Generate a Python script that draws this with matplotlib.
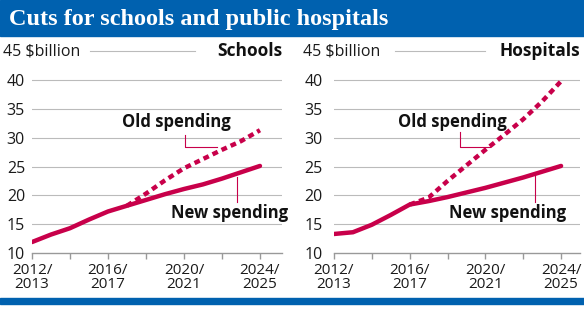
import matplotlib
matplotlib.use("Agg")
import matplotlib.pyplot as plt
from matplotlib.patches import Rectangle

# ---- data ----
years = [2012, 2013, 2014, 2015, 2016, 2017, 2018, 2019, 2020, 2021, 2022, 2023, 2024]
schools_new = [11.9, 13.2, 14.3, 15.8, 17.2, 18.2, 19.2, 20.2, 21.1, 21.9, 22.9, 24.0, 25.1]
schools_old_years = [2017, 2018, 2019, 2020, 2021, 2022, 2023, 2024]
schools_old = [18.2, 20.3, 22.6, 24.7, 26.3, 27.9, 29.4, 31.3]
hospitals_new = [13.3, 13.6, 14.9, 16.6, 18.4, 19.0, 19.7, 20.5, 21.3, 22.2, 23.1, 24.1, 25.1]
hospitals_old_years = [2016, 2017, 2018, 2019, 2020, 2021, 2022, 2023, 2024]
hospitals_old = [18.4, 19.6, 22.5, 25.2, 27.9, 30.5, 33.2, 36.3, 39.8]
yticks = [10, 15, 20, 25, 30, 35, 40]
xticks = [2012, 2014, 2016, 2018, 2020, 2022, 2024]
xticklabels = ["2012/\n2013", "", "2016/\n2017", "", "2020/\n2021", "", "2024/\n2025"]
title = "Cuts for schools and public hospitals"

RED = "#C8004A"
BLUE = "#0061AF"
GRID = "#BBBBBB"
FONT = ["Open Sans", "DejaVu Sans"]
plt.rcParams["font.family"] = FONT

W, H = 584, 329
fig = plt.figure(figsize=(W / 100, H / 100), dpi=100)

def fx(px):
    return px / W

def fy(py):
    return 1 - py / H

# header / footer bars
fig.patches.append(Rectangle((0, fy(36)), 1, 36 / H, transform=fig.transFigure,
                             color=BLUE, zorder=0))
fig.patches.append(Rectangle((0, fy(304)), 1, 6 / H, transform=fig.transFigure,
                             color=BLUE, zorder=0))
fig.text(fx(9), fy(19), title, color="white", fontsize=17.5, fontweight="bold",
         family=["Liberation Serif", "DejaVu Serif"], va="center", ha="left")

panels = [
    dict(left=32, right=282, xmax=2025.16, name="Schools", new=schools_new,
         oyears=schools_old_years, old=schools_old, lab_left=3, gl=(0.232, 0.652),
         old_txt=(2019.6, 31.9), old_lead=[(2020.05, 30.5), (2020.05, 28.45), (2021.72, 28.45)],
         new_txt=(2022.42, 16.1), new_lead=[(2022.81, 23.25), (2022.81, 18.9)], pad=5),
    dict(left=334, right=580, xmax=2025.0, name="Hospitals", new=hospitals_new,
         oyears=hospitals_old_years, old=hospitals_old, lab_left=303, gl=(0.248, 0.614),
         old_txt=(2018.28, 31.9), old_lead=[(2018.66, 31.06), (2018.66, 28.45), (2020.25, 28.45)],
         new_txt=(2021.15, 16.1), new_lead=[(2022.62, 23.5), (2022.62, 18.9)], pad=8),
]

for p in panels:
    ax = fig.add_axes([fx(p["left"]), fy(253), (p["right"] - p["left"]) / W, (253 - 51.2) / H])
    ax.set_xlim(2012, p["xmax"])
    ax.set_ylim(10, 45)
    for s in ["top", "right", "left"]:
        ax.spines[s].set_visible(False)
    ax.spines["bottom"].set_color("#999999")
    ax.spines["bottom"].set_linewidth(1.0)
    ax.set_yticks(yticks)
    ax.set_yticklabels([str(v) for v in yticks])
    ax.tick_params(axis="y", length=0, pad=p["pad"], labelsize=11.5, labelcolor="#1a1a1a")
    ax.set_xticks(xticks)
    ax.set_xticklabels(xticklabels, linespacing=0.88)
    ax.tick_params(axis="x", length=4.5, width=1.0, color="#999999", pad=3,
                   labelsize=11, labelcolor="#1a1a1a")
    for v in yticks[1:]:
        ax.axhline(v, color=GRID, lw=0.8, zorder=1)
    ax.axhline(45, xmin=p["gl"][0], xmax=p["gl"][1], color=GRID, lw=0.8, zorder=1, clip_on=False)
    fig.text(fx(p["lab_left"]), fy(51.2), "45 $billion", fontsize=11.5, color="#1a1a1a",
             va="center", ha="left")
    ax.text(1.0, 45, p["name"], transform=ax.get_yaxis_transform(), ha="right", va="center",
            fontsize=12.5, fontweight="bold", color="#111111")

    ax.plot(p["oyears"], p["old"], color=RED, lw=3.2, linestyle=(0, (1.3, 0.95)),
            solid_capstyle="butt", zorder=3)
    ax.plot(years, p["new"], color=RED, lw=3.2, solid_capstyle="round",
            solid_joinstyle="round", zorder=4)

    ax.text(*p["old_txt"], "Old spending", ha="center", va="baseline", fontsize=12,
            fontweight="bold", color="#111111")
    ax.text(*p["new_txt"], "New spending", ha="center", va="baseline", fontsize=12,
            fontweight="bold", color="#111111", clip_on=False)
    lx, ly = zip(*p["old_lead"])
    ax.plot(lx, ly, color=RED, lw=0.8, zorder=2)
    lx, ly = zip(*p["new_lead"])
    ax.plot(lx, ly, color=RED, lw=0.8, zorder=2)

fig.savefig("out.png", dpi=100, facecolor="white")
